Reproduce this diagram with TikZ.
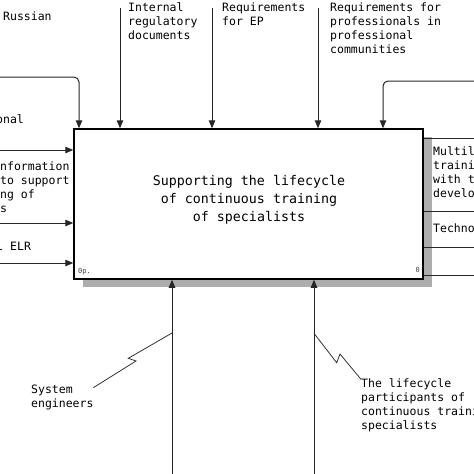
\documentclass[tikz,border=0pt]{standalone}
\usepackage{fontspec}
\newfontfamily\monof{DejaVu Sans Mono}
\usetikzlibrary{arrows.meta}
\newcommand\lblfont{\monof\fontsize{11.5}{14}\selectfont}
\newcommand\ttlfont{\monof\fontsize{13.3}{18}\selectfont}
\newcommand\tinyfont{\monof\fontsize{7}{8}\selectfont}
\begin{document}
\begin{tikzpicture}[x=1pt,y=-1pt,
  lbl/.style={font=\lblfont, anchor=north west, align=left, inner sep=0pt, text=black},
  ttl/.style={font=\ttlfont, anchor=north, align=center, inner sep=0pt, text=black},
  boxnum/.style={font=\tinyfont, inner sep=0pt, text=black!75},
  box/.style={draw=black, line width=1.5pt, fill=white, minimum width=349pt, minimum height=150pt, inner sep=0pt},
  shadow/.style={fill=black!32},
  arr/.style={draw=black!85, line width=1pt, -{Triangle[length=8pt,width=6.5pt]}},
  ln/.style={draw=black!85, line width=1pt},
  squig/.style={draw=black!80, line width=0.8pt}]
\useasboundingbox (0,0) rectangle (474,474);
\clip (0,0) rectangle (474,474);
% shadow
\fill[shadow] (83,279) rectangle (432,287);
\fill[shadow] (423,137) rectangle (432,287);
% main box
\node[box] (main) at (248.5,204) {};
\node[ttl] (title) at (249,175) {Supporting the lifecycle\\of continuous training\\of specialists};
\node[boxnum, anchor=west] (opl) at (78,272) {0p.};
\node[boxnum, anchor=east] (onum) at (420,270) {0};
% top labels
\node[lbl] (russ) at (3,11.6) {Russian};
\node[lbl] (ird) at (128,2.8) {Internal\\regulatory\\documents};
\node[lbl] (rep) at (222,2.8) {Requirements\\for EP};
\node[lbl] (rpc) at (330,2.8) {Requirements for\\professionals in\\professional\\communities};
% left labels
\node[lbl] (onal) at (-4,114.3) {onal};
\node[lbl] (info) at (0,161.3) {nformation\\to support\\ng of\\s};
\node[lbl] (elr) at (-3.8,241.6) {l ELR};
% right labels
\node[lbl] (multi) at (433,146.3) {Multile\\trainin\\with t\\develo};
\node[lbl] (techno) at (433,223.6) {Techno};
% bottom labels
\node[lbl] (sys) at (31,384.6) {System\\engineers};
\node[lbl] (lcp) at (361,378.3) {The lifecycle\\participants of\\continuous traini\\specialists};
% controls
\coordinate (c0) at (0,77);
\coordinate (c0k) at (79,77);
\draw[arr, rounded corners=5pt] (c0) -- (c0k) -- (c0k |- main.north);
\coordinate (c1) at (120,8);
\draw[arr] (c1) -- (c1 |- main.north);
\coordinate (c2) at (212,8);
\draw[arr] (c2) -- (c2 |- main.north);
\coordinate (c3) at (318,8);
\draw[arr] (c3) -- (c3 |- main.north);
\coordinate (c4) at (474,81);
\coordinate (c4k) at (383,81);
\draw[arr, rounded corners=5pt] (c4) -- (c4k) -- (c4k |- main.north);
% inputs
\coordinate (i1) at (0,150);
\draw[arr] (i1) -- (i1 -| main.west);
\coordinate (i2) at (0,223);
\draw[arr] (i2) -- (i2 -| main.west);
\coordinate (i3) at (0,263);
\draw[arr] (i3) -- (i3 -| main.west);
% outputs
\coordinate (o1) at (474,138);
\draw[ln] (o1 -| main.east) -- (o1);
\coordinate (o2) at (474,211);
\draw[ln] (o2 -| main.east) -- (o2);
\coordinate (o3) at (474,247);
\draw[ln] (o3 -| main.east) -- (o3);
\coordinate (o4) at (474,275);
\draw[ln] (o4 -| main.east) -- (o4);
% mechanisms
\coordinate (m1) at (172,474);
\draw[arr] (m1) -- (m1 |- main.south);
\coordinate (m2) at (314,474);
\draw[arr] (m2) -- (m2 |- main.south);
% squiggles
\coordinate (s1a) at (172,333);
\coordinate (s1b) at (128.3,358.3);
\coordinate (s1c) at (136,361);
\coordinate (s1d) at (93.3,387.7);
\draw[squig] (s1a) -- (s1b) -- (s1c) -- (s1d);
\coordinate (s2a) at (314,333.3);
\coordinate (s2b) at (336.7,362.7);
\coordinate (s2c) at (340,354);
\coordinate (s2d) at (361,379.3);
\draw[squig] (s2a) -- (s2b) -- (s2c) -- (s2d);
\end{tikzpicture}
\end{document}
